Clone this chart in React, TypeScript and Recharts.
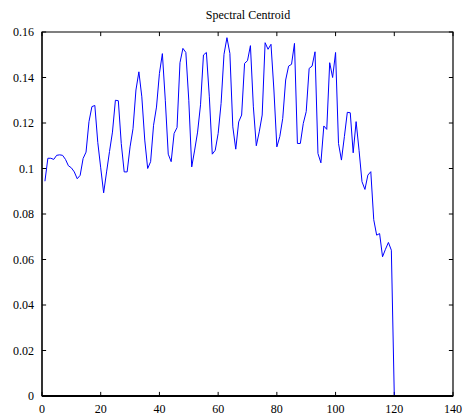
import { LineChart, Line, XAxis, YAxis, ReferenceArea, ReferenceLine } from 'recharts';

// spectral centroid per frame, frames 1..131
const centroid = [
  0.0944, 0.1045, 0.1045, 0.104, 0.1058, 0.106, 0.1058, 0.104, 0.1012, 0.1003,
  0.0985, 0.0955, 0.097, 0.1044, 0.1072, 0.1206, 0.1272, 0.1277, 0.1115, 0.1003,
  0.0893, 0.0985, 0.1075, 0.116, 0.13, 0.1298, 0.111, 0.0985, 0.0985, 0.1095,
  0.1175, 0.1345, 0.1425, 0.1315, 0.1125, 0.1, 0.103, 0.119, 0.127, 0.1418,
  0.1505, 0.13, 0.1063, 0.103, 0.1154, 0.118, 0.1465, 0.1528, 0.151, 0.13,
  0.1007, 0.1081, 0.116, 0.128, 0.1499, 0.151, 0.1315, 0.1063, 0.108, 0.1154,
  0.1286, 0.1502, 0.1575, 0.1506, 0.1183, 0.1085, 0.1205, 0.1235, 0.1462, 0.1474,
  0.154, 0.1271, 0.11, 0.1161, 0.1235, 0.1553, 0.1524, 0.1546, 0.1345, 0.1095,
  0.114, 0.122, 0.1389, 0.145, 0.1458, 0.155, 0.111, 0.111, 0.1198, 0.125,
  0.144, 0.145, 0.1513, 0.1066, 0.1025, 0.1187, 0.1172, 0.1465, 0.14, 0.151,
  0.111, 0.1037, 0.114, 0.1247, 0.1245, 0.1069, 0.1206, 0.108, 0.0942, 0.0908,
  0.0971, 0.0986, 0.0775, 0.0707, 0.0714, 0.0612, 0.0645, 0.0675, 0.0641, 0,
  0, 0, 0, 0, 0, 0, 0, 0, 0, 0, 0,
];

const xTicks = [0, 20, 40, 60, 80, 100, 120, 140];
const yTicks = [0, 0.02, 0.04, 0.06, 0.08, 0.1, 0.12, 0.14, 0.16];

const data = centroid.map((v, i) => ({ x: i + 1, v }));

const X_MAX = 140;
const Y_MAX = 0.16;
// inward tick length in data units (~4px)
const TICK_X = 1.4;
const TICK_Y = 0.0018;

export default function App() {
  return (
    <div style={{ position: 'absolute', left: 0, top: 0, width: 465, height: 416, background: '#fff' }}>
      <LineChart
        width={465}
        height={416}
        data={data}
        margin={{ top: 32, right: 12, left: 0, bottom: 0 }}
      >
        <XAxis
          dataKey="x"
          type="number"
          domain={[0, X_MAX]}
          ticks={xTicks}
          interval={0}
          height={20}
          axisLine={{ stroke: '#000', strokeWidth: 2 }}
          tickLine={false}
          tick={{ fontSize: 12, fill: '#000' }}
        />
        <YAxis
          type="number"
          domain={[0, Y_MAX]}
          ticks={yTicks}
          interval={0}
          width={42}
          axisLine={{ stroke: '#000' }}
          tickLine={false}
          tick={{ fontSize: 12, fill: '#000' }}
        />
        <ReferenceArea x1={0} x2={X_MAX} y1={0} y2={Y_MAX} fill="none" stroke="#000" strokeWidth={1.2} />
        {xTicks.map((t) => (
          <ReferenceLine key={'b' + t} segment={[{ x: t, y: 0 }, { x: t, y: TICK_Y }]} stroke="#000" />
        ))}
        {xTicks.map((t) => (
          <ReferenceLine key={'t' + t} segment={[{ x: t, y: Y_MAX }, { x: t, y: Y_MAX - TICK_Y }]} stroke="#000" />
        ))}
        {yTicks.map((t) => (
          <ReferenceLine key={'l' + t} segment={[{ x: 0, y: t }, { x: TICK_X, y: t }]} stroke="#000" />
        ))}
        {yTicks.map((t) => (
          <ReferenceLine key={'r' + t} segment={[{ x: X_MAX, y: t }, { x: X_MAX - TICK_X, y: t }]} stroke="#000" />
        ))}
        <Line
          type="linear"
          dataKey="v"
          stroke="#0000ff"
          strokeWidth={1}
          dot={false}
          isAnimationActive={false}
        />
        <text x={248} y={19} textAnchor="middle" fontSize={12}>
          Spectral Centroid
        </text>
      </LineChart>
    </div>
  );
}
